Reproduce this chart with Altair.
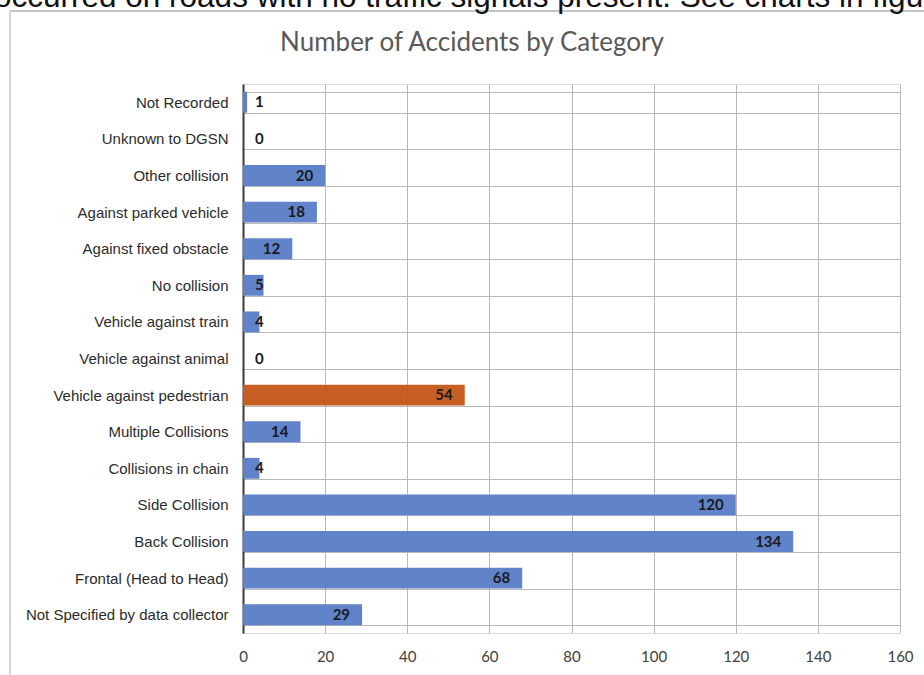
import altair as alt
import pandas as pd

# Accident categories, top to bottom, and the count for each
categories = [
    "Not Recorded",
    "Unknown to DGSN",
    "Other collision",
    "Against parked vehicle",
    "Against fixed obstacle",
    "No collision",
    "Vehicle against train",
    "Vehicle against animal",
    "Vehicle against pedestrian",
    "Multiple Collisions",
    "Collisions in chain",
    "Side Collision",
    "Back Collision",
    "Frontal (Head to Head)",
    "Not Specified by data collector",
]
counts = [1, 0, 20, 18, 12, 5, 4, 0, 54, 14, 4, 120, 134, 68, 29]
highlighted = ["Vehicle against pedestrian"]
x_ticks = [0, 20, 40, 60, 80, 100, 120, 140, 160]

caption = "occurred on roads with no traffic signals present. See charts in figure"
chart_title = "Number of Accidents by Category"

df = pd.DataFrame({"category": categories, "count": counts})
df["group"] = ["focus" if c in highlighted else "other" for c in categories]

BLUE = "#5b7fc8"
ORANGE = "#c55a1e"

y_enc = alt.Y(
    "category:N",
    sort=categories,
    title=None,
    scale=alt.Scale(paddingInner=0.43, paddingOuter=0.215),
    axis=alt.Axis(
        ticks=False,
        tickBand="extent",
        grid=True,
        gridColor="#b8b8b8",
        gridWidth=1,
        domain=True,
        domainColor="#3a3a3a",
        domainWidth=2,
        labelPadding=15,
        labelFont="Liberation Sans",
        labelFontSize=15,
        labelColor="#2b2b2b",
        labelLimit=260,
    ),
)

x_scale = alt.Scale(domain=[0, 160], nice=False)
x_enc = alt.X(
    "count:Q",
    scale=x_scale,
    title=None,
    axis=alt.Axis(
        values=x_ticks,
        ticks=False,
        domain=False,
        grid=True,
        gridColor="#b8b8b8",
        gridWidth=1,
        labelFlush=False,
        labelPadding=16,
        labelFont="Lato",
        labelFontSize=15,
        labelColor="#404040",
    ),
)

bars = alt.Chart(df).mark_bar(opacity=0.97).encode(
    x=x_enc,
    y=y_enc,
    color=alt.Color(
        "group:N",
        scale=alt.Scale(domain=["focus", "other"], range=[ORANGE, BLUE]),
        legend=None,
    ),
)

label_style = dict(font="Lato", fontSize=15, fontWeight="bold", color="#1a1a1a", baseline="middle")

# Labels sitting inside the end of the longer bars
labels_big = (
    alt.Chart(df)
    .transform_filter("datum.count >= 10")
    .mark_text(align="right", dx=-12, **label_style)
    .encode(x=alt.X("count:Q", scale=x_scale), y=alt.Y("category:N", sort=categories), text="count:Q")
)

# Labels for short bars are pushed just past the axis
labels_small = (
    alt.Chart(df)
    .transform_filter("datum.count < 10")
    .mark_text(align="left", dx=12, **label_style)
    .encode(x=alt.datum(0, scale=x_scale), y=alt.Y("category:N", sort=categories), text="count:Q")
)

page = pd.DataFrame({"caption": [caption], "title": [chart_title]})

# Running text of the surrounding page, only its lower part in view
caption_text = alt.Chart(page).mark_text(
    align="left", baseline="alphabetic", font="Liberation Sans", fontSize=31.5, color="#111111"
).encode(x=alt.value(-249), y=alt.value(-77), text="caption:N")

# Chart frame
frame_top = alt.Chart(page).mark_rule(color="#c4c4c4", strokeWidth=2).encode(
    x=alt.value(-233), x2=alt.value(700), y=alt.value(-73)
)
frame_left = alt.Chart(page).mark_rule(color="#c4c4c4", strokeWidth=1.5).encode(
    x=alt.value(-233), y=alt.value(-73), y2=alt.value(600)
)

title_text = alt.Chart(page).mark_text(
    align="center", baseline="middle", font="Lato", fontSize=26, color="#595959"
).encode(x=alt.value(229), y=alt.value(-41), text="title:N")

chart = (
    alt.layer(frame_top, frame_left, caption_text, title_text, bars, labels_big, labels_small)
    .properties(
        width=657,
        height=549,
        autosize=alt.AutoSizeParams(type="none"),
        padding={"left": 243, "top": 84, "right": 24, "bottom": 42},
    )
    .configure_view(stroke=None)
    .configure(background="white")
)

chart.save("out.html", embed_options={"renderer": "svg", "actions": False})
